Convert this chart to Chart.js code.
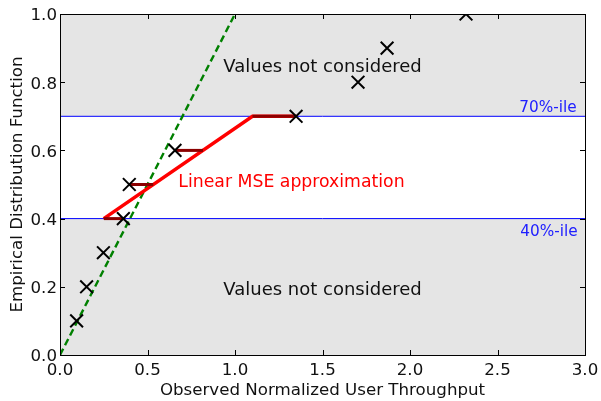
<!DOCTYPE html>
<html lang="en">
<head>
  <meta charset="UTF-8">
  <title>Empirical Distribution Function</title>
  <script src="https://cdn.jsdelivr.net/npm/chart.js"></script>
  <style>
    html, body { margin: 0; padding: 0; background: #fff; }
    #wrap { width: 601px; height: 401px; }
  </style>
</head>
<body>
  <div id="wrap"><canvas id="cdf" width="601" height="401"></canvas></div>
  <script>
    // observed samples (x) and their ECDF value (y)
    const obsThroughput = [0.095, 0.152, 0.248, 0.362, 0.396, 0.657, 1.349, 1.703, 1.869, 2.32];
    const ecdfValues = [0.1, 0.2, 0.3, 0.4, 0.5, 0.6, 0.7, 0.8, 0.9, 1.0];
    // piecewise linear MSE fit
    const fitX = [0.25, 1.1, 1.35];
    const fitY = [0.4, 0.7, 0.7];
    // horizontal residuals between the points and the fit
    const residY = [0.4, 0.5, 0.6, 0.7];
    const residFrom = [0.362, 0.396, 0.657, 1.349];
    const residTo = [0.25, 0.533, 0.817, 1.1];
    // dashed reference line
    const refX = [0, 1.0];
    const refY = [0, 1];
    // percentile limits
    const pctLevels = [0.4, 0.7];
    const pctLabels = ['40%-ile', '70%-ile'];
    const xTicks = [0, 0.5, 1.0, 1.5, 2.0, 2.5, 3.0];
    const yTicks = [0, 0.2, 0.4, 0.6, 0.8, 1.0];

    const FONT = 'DejaVu Sans';

    const datasets = [];
    datasets.push({
      type: 'scatter',
      data: obsThroughput.map((x, i) => ({x, y: ecdfValues[i]})),
      pointStyle: 'crossRot',
      pointRadius: 9,
      pointHoverRadius: 9,
      borderColor: '#000',
      borderWidth: 2,
      order: 0
    });
    residY.forEach((y, i) => {
      datasets.push({
        type: 'line',
        data: [{x: residFrom[i], y}, {x: residTo[i], y}],
        borderColor: '#8b0000',
        borderWidth: 3,
        pointRadius: 0,
        order: 1
      });
    });
    datasets.push({
      type: 'line',
      data: fitX.map((x, i) => ({x, y: fitY[i]})),
      borderColor: '#ff0000',
      borderWidth: 3.5,
      pointRadius: 0,
      order: 2
    });
    datasets.push({
      type: 'line',
      data: refX.map((x, i) => ({x, y: refY[i]})),
      borderColor: '#008000',
      borderWidth: 2.4,
      borderDash: [7, 4],
      pointRadius: 0,
      order: 3
    });
    pctLevels.forEach(y => {
      datasets.push({
        type: 'line',
        data: [{x: 0, y}, {x: 3, y}],
        borderColor: '#0000ff',
        borderWidth: 1,
        pointRadius: 0,
        order: 4
      });
    });

    // gray bands, frame, inward ticks, and text notes
    const decor = {
      id: 'decor',
      beforeDatasetsDraw(chart) {
        const {ctx, chartArea: a, scales: {x, y}} = chart;
        ctx.save();
        ctx.fillStyle = '#e5e5e5';
        const lo = y.getPixelForValue(pctLevels[0]);
        const hi = y.getPixelForValue(pctLevels[1]);
        ctx.fillRect(a.left, lo, a.right - a.left, a.bottom - lo);
        ctx.fillRect(a.left, a.top, a.right - a.left, hi - a.top);
        ctx.restore();
      },
      afterDatasetsDraw(chart) {
        const {ctx, chartArea: a, scales: {x, y}} = chart;
        ctx.save();
        ctx.strokeStyle = '#000';
        ctx.lineWidth = 1;
        ctx.beginPath();
        xTicks.forEach(v => {
          const px = Math.round(x.getPixelForValue(v)) + 0.5;
          ctx.moveTo(px, a.bottom); ctx.lineTo(px, a.bottom - 5);
          ctx.moveTo(px, a.top); ctx.lineTo(px, a.top + 5);
        });
        yTicks.forEach(v => {
          const py = Math.round(y.getPixelForValue(v)) + 0.5;
          ctx.moveTo(a.left, py); ctx.lineTo(a.left + 5, py);
          ctx.moveTo(a.right, py); ctx.lineTo(a.right - 5, py);
        });
        ctx.stroke();
        ctx.strokeRect(Math.round(a.left) + 0.5, Math.round(a.top) + 0.5,
          Math.round(a.right - a.left), Math.round(a.bottom - a.top));

        ctx.textBaseline = 'middle';
        ctx.fillStyle = '#111';
        ctx.font = '18px "' + FONT + '"';
        ctx.textAlign = 'center';
        ctx.fillText('Values not considered', x.getPixelForValue(1.5), y.getPixelForValue(0.844));
        ctx.fillText('Values not considered', x.getPixelForValue(1.5), y.getPixelForValue(0.19));
        ctx.fillStyle = '#ff0000';
        ctx.font = '17.3px "' + FONT + '"';
        ctx.textAlign = 'left';
        ctx.fillText('Linear MSE approximation', x.getPixelForValue(0.676), y.getPixelForValue(0.505));
        ctx.fillStyle = '#2020ff';
        ctx.font = '15.3px "' + FONT + '"';
        ctx.textAlign = 'right';
        ctx.fillText(pctLabels[1], x.getPixelForValue(2.953), y.getPixelForValue(0.724));
        ctx.fillText(pctLabels[0], x.getPixelForValue(2.958), y.getPixelForValue(0.361));
        ctx.restore();
      }
    };

    new Chart(document.getElementById('cdf'), {
      type: 'scatter',
      data: { datasets },
      options: {
        responsive: false,
        animation: false,
        clip: 0,
        layout: { padding: { top: 14, right: 16, left: 0, bottom: 0 } },
        plugins: { legend: { display: false }, tooltip: { enabled: false } },
        scales: {
          x: {
            type: 'linear', min: 0, max: 3,
            afterBuildTicks: s => { s.ticks = xTicks.map(value => ({value})); },
            afterFit: s => { s.height = 46; s.paddingLeft = 0; s.paddingRight = 0; },
            grid: { display: false, drawTicks: false },
            border: { display: false },
            ticks: { color: '#111', padding: 6, maxRotation: 0,
              font: { family: FONT, size: 16.67 }, callback: v => v.toFixed(1) },
            title: { display: true, text: 'Observed Normalized User Throughput', color: '#111',
              font: { family: FONT, size: 16.67 }, padding: { top: 0, bottom: 0 } }
          },
          y: {
            type: 'linear', min: 0, max: 1,
            afterBuildTicks: s => { s.ticks = yTicks.map(value => ({value})); },
            afterFit: s => { s.width = 60; },
            grid: { display: false, drawTicks: false },
            border: { display: false },
            ticks: { color: '#111', padding: 3, labelOffset: 2,
              font: { family: FONT, size: 16.67 }, callback: v => v.toFixed(1) },
            title: { display: true, text: 'Empirical Distribution Function', color: '#111',
              font: { family: FONT, size: 16.67 }, padding: { top: 8, bottom: 0 } }
          }
        }
      },
      plugins: [decor]
    });
  </script>
</body>
</html>
